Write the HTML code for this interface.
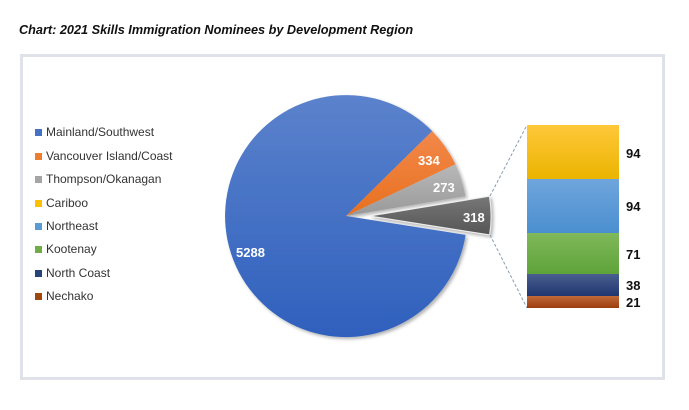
<!DOCTYPE html>
<html><head><style>
body{margin:0;width:689px;height:405px;background:#fff;font-family:"Liberation Sans",sans-serif;}
</style></head><body>
<svg width="689" height="405" xmlns="http://www.w3.org/2000/svg">
<defs>
<linearGradient id="gb" x1="0" y1="0" x2="0" y2="1"><stop offset="0" stop-color="#5b82cc"/><stop offset="1" stop-color="#2f60bd"/></linearGradient>
<linearGradient id="go" x1="0" y1="0" x2="0" y2="1"><stop offset="0" stop-color="#f2884a"/><stop offset="1" stop-color="#e8701f"/></linearGradient>
<linearGradient id="gg" x1="0" y1="0" x2="0" y2="1"><stop offset="0" stop-color="#b8b8b8"/><stop offset="1" stop-color="#999"/></linearGradient>
<linearGradient id="gd" x1="0" y1="0" x2="0" y2="1"><stop offset="0" stop-color="#777"/><stop offset="1" stop-color="#555"/></linearGradient>
<linearGradient id="y" x1="0" y1="0" x2="0" y2="1"><stop offset="0" stop-color="#ffc83a"/><stop offset="1" stop-color="#ebb400"/></linearGradient>
<linearGradient id="lb" x1="0" y1="0" x2="0" y2="1"><stop offset="0" stop-color="#6fa5dc"/><stop offset="1" stop-color="#4b8fd0"/></linearGradient>
<linearGradient id="gr" x1="0" y1="0" x2="0" y2="1"><stop offset="0" stop-color="#80b85a"/><stop offset="1" stop-color="#5ea33a"/></linearGradient>
<linearGradient id="nv" x1="0" y1="0" x2="0" y2="1"><stop offset="0" stop-color="#4a5f8f"/><stop offset="1" stop-color="#1f3670"/></linearGradient>
<linearGradient id="br" x1="0" y1="0" x2="0" y2="1"><stop offset="0" stop-color="#c06a3a"/><stop offset="1" stop-color="#9c3c0c"/></linearGradient>
<filter id="sh" x="-10%" y="-10%" width="120%" height="120%"><feDropShadow dx="2" dy="2" stdDeviation="1.5" flood-color="#000" flood-opacity="0.3"/></filter>
</defs>
<text x="19" y="34" font-size="12.7" font-weight="bold" font-style="italic" fill="#111">Chart: 2021 Skills Immigration Nominees by Development Region</text>
<rect x="21.5" y="55.5" width="642" height="323" fill="#fff" stroke="#dfe2e8" stroke-width="3"/>
<g font-size="12" fill="#333">
<rect x="35" y="129" width="7" height="7" fill="#4472c4"/><text x="46" y="136">Mainland/Southwest</text>
<rect x="35" y="153" width="7" height="7" fill="#ed7d31"/><text x="46" y="160">Vancouver Island/Coast</text>
<rect x="35" y="176" width="7" height="7" fill="#a5a5a5"/><text x="46" y="183">Thompson/Okanagan</text>
<rect x="35" y="200" width="7" height="7" fill="#ffc000"/><text x="46" y="207">Cariboo</text>
<rect x="35" y="223" width="7" height="7" fill="#5b9bd5"/><text x="46" y="230">Northeast</text>
<rect x="35" y="246" width="7" height="7" fill="#70ad47"/><text x="46" y="253">Kootenay</text>
<rect x="35" y="270" width="7" height="7" fill="#264478"/><text x="46" y="277">North Coast</text>
<rect x="35" y="293" width="7" height="7" fill="#9e480e"/><text x="46" y="300">Nechako</text>
</g>
<g filter="url(#sh)">
<path d="M346,216 L432.2,131.1 A121,121 0 1,0 465.6,234.9 Z" fill="url(#gb)"/>
<path d="M346,216 L455.4,164.3 A121,121 0 0,0 432.2,131.1 Z" fill="url(#go)"/>
<path d="M346,216 L465.4,196.2 A121,121 0 0,0 455.4,164.3 Z" fill="url(#gg)"/>
<path d="M370,216 L489.4,196.2 A121,121 0 0,1 489.6,234.9 Z" fill="url(#gd)" stroke="#eee" stroke-width="1"/>
</g>
<line x1="490" y1="196" x2="527" y2="125" stroke="#8a9bb5" stroke-dasharray="3,2"/>
<line x1="490" y1="235" x2="527" y2="308" stroke="#8a9bb5" stroke-dasharray="3,2"/>
<rect x="527" y="125" width="92" height="54" fill="url(#y)"/>
<rect x="527" y="179" width="92" height="54" fill="url(#lb)"/>
<rect x="527" y="233" width="92" height="41" fill="url(#gr)"/>
<rect x="527" y="274" width="92" height="22" fill="url(#nv)"/>
<rect x="527" y="296" width="92" height="12" fill="url(#br)"/>
<g font-size="13" font-weight="bold" fill="#fff">
<text x="236" y="257">5288</text>
<text x="418" y="165">334</text>
<text x="433" y="192">273</text>
<text x="463" y="222">318</text>
</g>
<g font-size="13" font-weight="bold" fill="#111">
<text x="626" y="158">94</text>
<text x="626" y="211">94</text>
<text x="626" y="259">71</text>
<text x="626" y="290">38</text>
<text x="626" y="307">21</text>
</g>
</svg>
</body></html>
